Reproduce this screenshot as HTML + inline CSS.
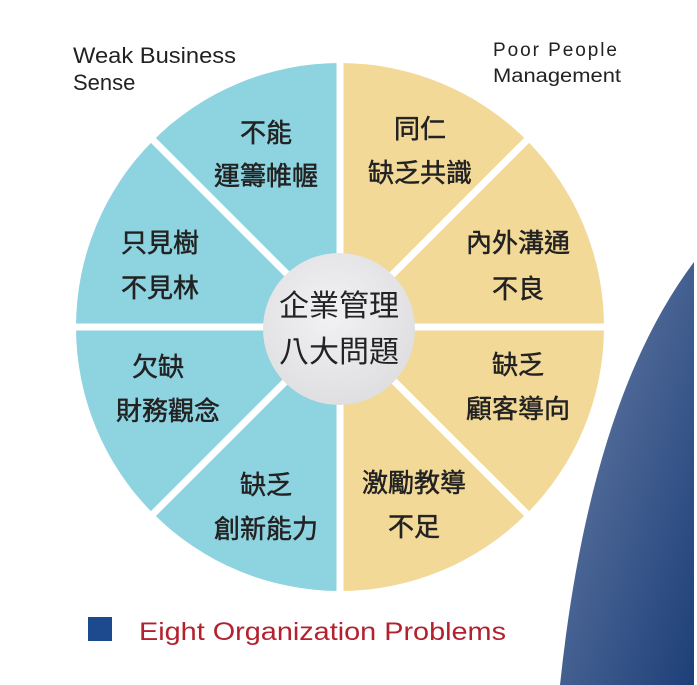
<!DOCTYPE html>
<html><head><meta charset="utf-8"><style>
html,body{margin:0;padding:0;background:#fff;}
body{width:697px;height:685px;overflow:hidden;position:relative;}
svg{position:absolute;left:0;top:0;}
</style></head><body>
<svg width="697" height="685" viewBox="0 0 697 685" xmlns="http://www.w3.org/2000/svg">
<defs>
<linearGradient id="bl" x1="0" y1="0" x2="1" y2="1">
<stop offset="0" stop-color="#6a80a8"/><stop offset="1" stop-color="#1d3f78"/>
</linearGradient>
<radialGradient id="cg" cx="0.45" cy="0.4" r="0.7">
<stop offset="0" stop-color="#f2f2f4"/><stop offset="1" stop-color="#dcdcdf"/>
</radialGradient>
</defs>
<path d="M694 262 Q590 400 560 685 L694 685 Z" fill="url(#bl)"/>
<path d="M340 327 L340 63 A264 264 0 0 0 340 591 Z" fill="#8dd3e0"/>
<path d="M340 327 L340 63 A264 264 0 0 1 340 591 Z" fill="#f2d998"/>
<g stroke="#fff" stroke-width="7">
<line x1="340" y1="40" x2="340" y2="610"/>
<line x1="55" y1="327" x2="625" y2="327"/>
<line x1="138" y1="125" x2="542" y2="529"/>
<line x1="542" y1="125" x2="138" y2="529"/>
</g>
<circle cx="339" cy="329" r="76" fill="url(#cg)"/>
<g font-family="'Liberation Sans','Noto Sans CJK TC',sans-serif" fill="#222" font-size="26" text-anchor="middle" stroke="#222" stroke-width="0.5">
<text x="266" y="142">不能</text><text x="266" y="185">運籌帷幄</text>
<text x="160" y="252">只見樹</text><text x="160" y="297">不見林</text>
<text x="158" y="376">欠缺</text><text x="168" y="420">財務觀念</text>
<text x="266" y="494">缺乏</text><text x="266" y="538">創新能力</text>
<text x="420" y="138">同仁</text><text x="420" y="182">缺乏共識</text>
<text x="518" y="252">內外溝通</text><text x="518" y="298">不良</text>
<text x="518" y="374">缺乏</text><text x="518" y="418">顧客導向</text>
<text x="414" y="492">激勵教導</text><text x="414" y="536">不足</text>
</g>
<g font-family="'Liberation Sans','Noto Sans CJK TC',sans-serif" fill="#222" font-size="30" text-anchor="middle">
<text x="339" y="316">企業管理</text><text x="339" y="362">八大問題</text>
</g>
<g font-family="'Liberation Sans',sans-serif" fill="#222">
<text x="73" y="63" font-size="22" textLength="163" lengthAdjust="spacingAndGlyphs">Weak Business</text>
<text x="73" y="90" font-size="22">Sense</text>
<text x="493" y="56" font-size="19" textLength="124">Poor  People</text>
<text x="493" y="82" font-size="19" textLength="128" lengthAdjust="spacingAndGlyphs">Management</text>
</g>
<rect x="88" y="617" width="24" height="24" fill="#1d4a8e"/>
<text x="139" y="640" font-family="'Liberation Sans',sans-serif" font-size="25" fill="#b3202e" textLength="367" lengthAdjust="spacingAndGlyphs">Eight Organization Problems</text>
</svg>
</body></html>
